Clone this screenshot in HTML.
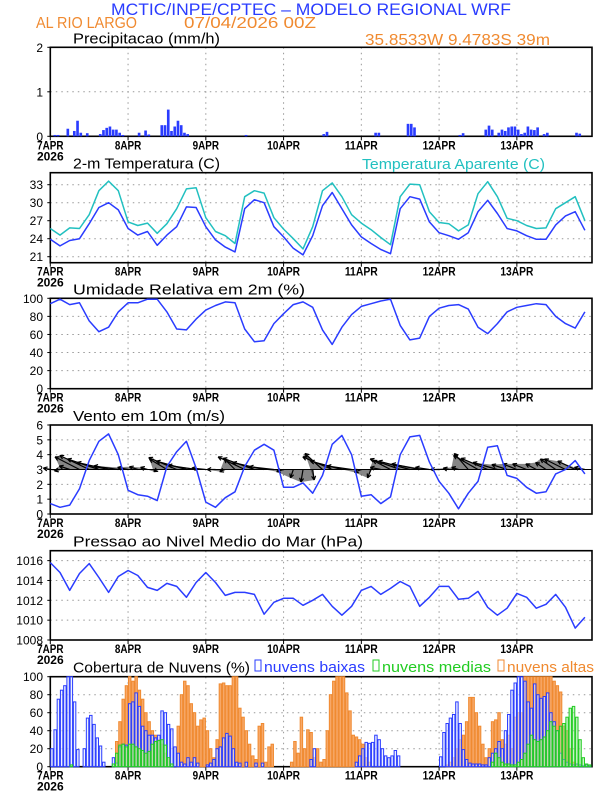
<!DOCTYPE html>
<html><head><meta charset="utf-8"><style>
html,body{margin:0;padding:0;background:#fff;}
svg{display:block;font-family:"Liberation Sans",sans-serif;}
</style></head><body>
<svg id="chart" width="612" height="792" viewBox="0 0 612 792" xmlns="http://www.w3.org/2000/svg">
<text x="111" y="15" font-size="17" fill="#2a3cff" textLength="400" lengthAdjust="spacingAndGlyphs">MCTIC/INPE/CPTEC – MODELO REGIONAL WRF</text>
<text x="36" y="28" font-size="16" fill="#f08a30" textLength="101" lengthAdjust="spacingAndGlyphs">AL RIO LARGO</text>
<text x="184" y="28" font-size="16" fill="#f08a30" textLength="132" lengthAdjust="spacingAndGlyphs">07/04/2026 00Z</text>
<text x="365" y="45" font-size="16" fill="#f08a30" textLength="185" lengthAdjust="spacingAndGlyphs">35.8533W 9.4783S 39m</text>
<g id="plots"></g>
</svg>
<script>
// ---- data (hours from 7APR 00Z) ----
const tHours = [0,3,6,9,12,15,18,21,24,27,30,33,36,39,42,45,48,51,54,57,60,63,66,69,72,75,78,81,84,87,90,93,96,99,102,105,108,111,114,117,120,123,126,129,132,135,138,141,144,147,150,153,156,159,162,165];
const temp2m = [23.9,22.8,23.7,24.0,26.5,29.2,30.0,28.8,25.7,24.6,25.2,22.9,24.6,26.0,29.3,29.2,26.0,23.8,22.6,21.8,29.0,30.5,30.0,26.0,24.3,22.4,21.3,24.5,29.5,31.7,29.0,26.3,24.3,23.2,22.2,21.5,29.0,31.0,30.6,26.8,25.0,24.5,23.9,25.0,28.5,30.4,28.2,25.7,25.3,24.5,23.9,23.9,26.3,27.8,28.5,25.4];
const tempApparent = [25.7,24.6,25.8,25.7,28.0,32.0,33.6,32.0,26.8,26.2,26.6,24.9,26.5,29.0,32.3,32.5,27.5,25.2,24.5,23.2,31.0,32.0,31.6,27.5,25.6,24.0,22.3,26.0,32.0,33.3,31.0,28.0,26.6,25.5,24.2,23.0,31.0,33.1,33.0,28.5,26.7,26.5,25.3,26.3,31.5,33.5,31.0,27.4,27.0,26.2,25.7,25.8,29.0,30.0,31.0,27.0];
const relHumidity = [94,99,93,95,75,63,68,85,95,95,99,99,85,66,65,77,87,92,96,95,66,52,53,72,83,93,96,90,65,49,68,82,91,94,97,99,70,54,56,80,89,92,93,88,68,61,72,85,90,92,94,93,80,72,67,85];
const windSpeed = [0.7,0.45,0.6,1.7,3.6,4.9,5.4,4.0,1.6,1.3,1.2,0.9,3.2,4.2,4.9,3.1,0.8,0.45,1.1,1.5,3.2,4.3,4.7,4.3,1.8,1.8,2.1,1.4,2.6,4.7,5.3,4.0,1.2,1.3,0.7,1.15,4.0,5.2,5.3,3.5,2.2,1.4,0.35,1.4,2.2,4.5,4.6,2.6,2.4,1.8,1.4,1.5,2.7,3.0,3.6,2.7];
const windU = [-1,-0.8,-1.5,-3.5,-4.2,-4.5,-4.5,-3.5,-1.5,-1.2,-1.0,-0.5,-2.5,-4.0,-4.3,-4.0,-2,-1.2,-0.8,-1.5,-3.8,-4.5,-4.5,-3.5,-1,-0.4,-0.3,0.2,-2.5,-4.2,-4.5,-3.5,-1,-0.5,-1.5,-2.5,-4.3,-4.5,-4.0,-2.0,-1.2,-0.8,-1.0,-2.0,-3.5,-3.8,-3.5,-2.2,-2.0,-2.0,-1.5,-1.5,-2.2,-3.0,-2.5,-1.5];
const windV = [0.2,-0.2,0.5,1.8,2.0,1.5,1.0,0.5,0.3,0.4,0.3,-0.3,1.5,1.7,1.2,0.6,0.2,0,-0.3,1.5,1.8,1.6,1.0,0.4,-0.3,-1.2,-1.8,-1.5,2.3,1.8,1.2,0.5,-0.4,-1.2,0.3,1.3,1.5,1.2,0.8,0.3,0,0.2,0.3,2.3,2.0,1.6,1.0,0.7,0.8,0.8,0.8,1.0,1.5,1.5,1.2,0.3];
const pressure = [1015.8,1014.8,1013.0,1014.7,1015.7,1014.3,1012.8,1014.4,1015.0,1014.5,1013.3,1013.0,1013.7,1013.4,1012.3,1013.8,1014.8,1013.8,1012.5,1012.8,1012.8,1012.6,1010.6,1011.8,1012.2,1012.2,1011.5,1012.0,1012.6,1011.4,1010.5,1011.4,1013.0,1013.4,1012.6,1013.2,1013.9,1013.4,1011.4,1012.3,1013.4,1013.4,1012.1,1012.2,1012.9,1011.3,1010.5,1011.2,1012.7,1012.3,1011.2,1011.6,1012.6,1011.3,1009.2,1010.3];
const precipHours = [1,2,5,7,8,9,11,15,16,17,18,19,20,21,22,27,29,30,34,35,36,37,38,39,40,41,42,60,84,85,100,101,110,111,112,126,127,134,135,136,138,139,140,141,142,143,144,145,146,147,148,149,150,152,153,162,163];
const precipValues = [0.03,0.03,0.17,0.12,0.35,0.08,0.07,0.05,0.14,0.19,0.22,0.15,0.15,0.08,0.03,0.08,0.13,0.04,0.25,0.25,0.6,0.12,0.22,0.35,0.25,0.08,0.05,0.03,0.05,0.1,0.08,0.08,0.28,0.28,0.2,0.03,0.07,0.15,0.24,0.15,0.08,0.15,0.12,0.2,0.22,0.22,0.15,0.05,0.08,0.22,0.15,0.14,0.2,0.05,0.08,0.08,0.06];
const cloudLow = [20,41,75,85,90,100,100,72,19,0,20,54,57,47,32,23,5,0,0,10,4,22,25,24,70,72,82,67,45,40,35,35,32,35,62,60,47,42,22,15,5,3,10,5,10,4,0,0,2,4,8,20,22,32,37,34,20,5,4,0,5,0,0,4,0,4,0,0,0,0,0,0,0,0,0,0,0,0,0,0,8,20,0,0,0,0,0,0,0,0,0,0,0,0,5,12,20,27,26,27,35,30,20,12,10,12,18,12,0,0,0,0,0,0,0,0,0,0,0,0,11,38,48,54,58,72,48,19,8,4,3,3,3,2,2,10,15,20,28,20,40,58,85,93,100,100,95,72,65,92,80,76,78,82,60,50,40,15,8,5,3,2,3,2,1,2,1,0];
const cloudMid = [0,0,0,0,0,0,2,0,0,0,0,0,0,0,0,0,0,0,0,3,15,24,25,22,25,25,22,20,18,15,17,25,28,29,30,24,10,3,0,0,0,0,0,0,0,0,0,0,0,0,0,0,0,0,0,0,0,0,0,0,0,0,0,0,0,0,0,0,0,0,0,0,0,0,0,0,0,0,0,0,0,0,0,0,0,0,0,0,0,0,0,0,0,0,0,0,0,0,0,0,0,0,0,0,0,0,0,0,0,0,0,0,0,0,0,0,0,0,0,0,0,0,0,0,0,0,0,0,0,0,0,0,0,0,0,0,5,15,10,5,3,3,2,2,5,8,15,25,35,30,28,30,33,40,50,45,40,45,48,55,65,67,55,30,10,3,2,0];
const cloudHigh = [0,0,0,0,0,0,0,0,0,0,0,0,0,0,0,0,0,0,0,0,28,50,75,90,100,95,100,85,75,60,50,40,35,30,25,15,8,0,0,45,80,95,90,70,60,45,52,54,40,20,10,30,92,93,90,90,100,100,65,55,40,25,12,8,45,48,5,22,25,0,0,0,0,0,5,28,15,55,20,41,38,10,20,5,8,40,80,95,100,100,100,82,62,35,33,30,25,10,5,0,0,0,0,0,0,0,0,0,0,0,0,0,0,0,0,0,0,0,0,0,0,0,2,5,10,20,30,35,50,77,77,60,45,25,10,20,50,52,60,30,25,35,20,55,60,60,100,100,100,100,100,100,100,100,100,95,90,83,45,40,20,5,2,0,0,0,0,0];
const dayLabels = ["7APR","8APR","9APR","10APR","11APR","12APR","13APR"];

// ---- axes ----
const X0 = 50.3, PXH = 3.24, XR = 592;
function xOf(h){ return X0 + h*PXH; }
const NS = "http://www.w3.org/2000/svg";
const root = document.getElementById('plots');
function mk(tag, attrs, parent){ const e=document.createElementNS(NS,tag); for(const k in attrs) e.setAttribute(k,attrs[k]); (parent||root).appendChild(e); return e; }
function txt(s, attrs, parent){ const e=mk('text',attrs,parent); e.textContent=s; return e; }

function panel(name, top, bottom, vmin, vmax, ticks, title, titleLen){
  const g = mk('g',{});
  
  
  const yOf = v => bottom - (v - vmin)/(vmax - vmin)*(bottom - top);
  for(let d=1; d<7; d++){
    const l = mk('line',{x1:xOf(d*24),x2:xOf(d*24),y1:top,y2:bottom,stroke:'#999','stroke-width':1,'stroke-dasharray':'1.5,4'},g);
    
    
  }
  ticks.forEach(t=>{
    const y=yOf(t);
    if(y>top+1 && y<bottom-1){
      const l = mk('line',{x1:X0,x2:XR,y1:y,y2:y,stroke:'#999','stroke-width':1,'stroke-dasharray':'1.5,4'},g);
      
      
    }
    const tl = txt(String(t),{x:43,y:y+4.5,'font-size':12,'text-anchor':'end',fill:'#000'},g);
    
    
    mk('line',{x1:X0-3,x2:X0,y1:y,y2:y,stroke:'#000','stroke-width':1},g);
  });
  const f = mk('rect',{x:X0,y:top,width:XR-X0,height:bottom-top,fill:'none',stroke:'#000','stroke-width':1.6},g);
  
  
  dayLabels.forEach((s,i)=>{
    const x=xOf(i*24);
    mk('line',{x1:x,x2:x,y1:bottom,y2:bottom+4,stroke:'#000','stroke-width':1},g);
    const t = txt(s,{x:x,y:bottom+13,'font-size':12,'font-weight':'bold','text-anchor':'middle',fill:'#000',textLength:s.length*6.6,lengthAdjust:'spacingAndGlyphs'},g);
    
    
  });
  const yr = txt("2026",{x:X0,y:bottom+24,'font-size':12,'font-weight':'bold','text-anchor':'middle',fill:'#000'},g);
  
  
  const tt = txt(title,{x:73,y:top-4,'font-size':15,fill:'#000',textLength:titleLen,lengthAdjust:'spacingAndGlyphs'},g);
  
  
  return {g, yOf};
}
function line(g, yOf, hrs, vals, color, name){
  const pts = hrs.map((h,i)=>xOf(h).toFixed(1)+','+yOf(vals[i]).toFixed(1)).join(' ');
  const p = mk('polyline',{points:pts,fill:'none',stroke:color,'stroke-width':1.5,'stroke-linejoin':'round'},g);
  
  
}

// precipitation
{
  const P = panel('precipitation',47.3,136.3,0,2,[0,1,2],'Precipitacao (mm/h)',147);
  precipHours.forEach((h,i)=>{
    const y=P.yOf(precipValues[i]);
    const r = mk('rect',{x:xOf(h),y:y,width:PXH-0.6,height:136.3-y,fill:'#2a3cff'},P.g);
    
    
  });
}
// temperature
{
  const T = panel('temperature',172.7,262.7,20,35,[21,24,27,30,33],'2-m Temperatura (C)',147);
  line(T.g,T.yOf,tHours,tempApparent,'#22c0c0','apparent-temperature-line');
  line(T.g,T.yOf,tHours,temp2m,'#2a3cff','temperature-line');
  const a = txt('Temperatura Aparente (C)',{x:362,y:169,'font-size':15,fill:'#22c0c0',textLength:183,lengthAdjust:'spacingAndGlyphs'},T.g);
  
  
}
// humidity
{
  const R = panel('humidity',298.3,388.7,0,100,[0,20,40,60,80,100],'Umidade Relativa em 2m (%)',232);
  line(R.g,R.yOf,tHours,relHumidity,'#2a3cff','humidity-line');
}
// wind
{
  const W = panel('wind',425,514,0,6,[0,1,2,3,4,5,6],'Vento em 10m (m/s)',152);
  const base = W.yOf(3);
  const S = 7;
  // fan shading between consecutive vectors (hatched look)
  for(let i=0;i<tHours.length-1;i++){
    const x1=xOf(tHours[i]), x2=xOf(tHours[i+1]);
    const p = mk('polygon',{points:`${x1},${base} ${x1+windU[i]*S},${base-windV[i]*S} ${x2+windU[i+1]*S},${base-windV[i+1]*S} ${x2},${base}`,fill:'#222','fill-opacity':0.55,stroke:'none'},W.g);
    
    
  }
  tHours.forEach((h,i)=>{
    const x=xOf(h), dx=windU[i]*S, dy=-windV[i]*S;
    const len=Math.hypot(dx,dy)||1, ux=dx/len, uy=dy/len;
    const tx=x+dx, ty=base+dy;
    const a = mk('path',{d:`M${x},${base}L${tx},${ty}M${tx},${ty}L${tx-ux*4-uy*2},${ty-uy*4+ux*2}M${tx},${ty}L${tx-ux*4+uy*2},${ty-uy*4-ux*2}`,stroke:'#000','stroke-width':1.2,fill:'none'},W.g);
    
    
  });
  mk('line',{x1:X0,x2:XR,y1:base,y2:base,stroke:'#000','stroke-width':1},W.g);
  line(W.g,W.yOf,tHours,windSpeed,'#2a3cff','wind-speed-line');
}
// pressure
{
  const Pr = panel('pressure',550.7,640,1008,1017,[1008,1010,1012,1014,1016],'Pressao ao Nivel Medio do Mar (hPa)',290);
  line(Pr.g,Pr.yOf,tHours,pressure,'#2a3cff','pressure-line');
}
// clouds
{
  const C = panel('cloud-cover',676.7,766.7,0,100,[0,20,40,60,80,100],'Cobertura de Nuvens (%)',177);
  function bars(vals, fill, stroke, name){
    vals.forEach((v,h)=>{
      if(v<=0) return;
      const y=C.yOf(v);
      const r = mk('rect',{x:xOf(h)+0.4,y:y,width:PXH-0.8,height:766.7-y,fill:fill,stroke:stroke,'stroke-width':1},C.g);
      
      
    });
  }
  bars(cloudHigh,'#f7a868','#f08a30','high-cloud-bar');
  bars(cloudLow,'rgba(225,232,255,0.6)','#2a3cff','low-cloud-bar');
  bars(cloudMid,'rgba(150,230,150,0.5)','#22cc22','mid-cloud-bar');
  const leg=[['nuvens baixas','#2a3cff',255,110],['nuvens medias','#22cc22',373,118],['nuvens altas','#f08a30',498,96]];
  leg.forEach(l=>{
    const b = mk('rect',{x:l[2],y:660,width:6,height:11,fill:'none',stroke:l[1],'stroke-width':1},C.g);
    
    
    const t = txt(l[0],{x:l[2]+9,y:672,'font-size':15,fill:l[1],textLength:l[3]-9,lengthAdjust:'spacingAndGlyphs'},C.g);
    
    
  });
}
</script>
</body></html>
